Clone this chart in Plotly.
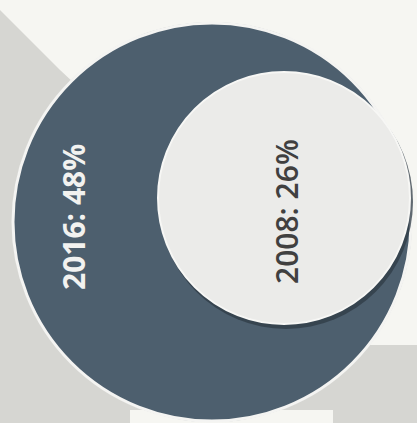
import plotly.graph_objects as go

years = ["2016", "2008"]
shares = [48, 26]
labels = [f"{y}: {s}%" for y, s in zip(years, shares)]

W, H = 417, 423
fig = go.Figure()

# background
shapes = [
    dict(type="rect", x0=0, y0=0, x1=W, y1=H, fillcolor="#d6d6d2", line_width=0, layer="below"),
    dict(type="path", path="M 0 10 L 0 0 L 417 0 L 417 345 L 300 345 L 200 200 L 60 70 Z",
         fillcolor="#f6f6f2", line_width=0, layer="below"),
    dict(type="rect", x0=130, y0=410, x1=333, y1=H, fillcolor="#f6f6f2", line_width=0, layer="below"),
]
# big circle (2016)
bc = (212, 222, 199)
shapes.append(dict(type="circle", x0=bc[0]-bc[2]-1, x1=bc[0]+bc[2]+1, y0=bc[1]-bc[2]-1, y1=bc[1]+bc[2]+1,
                   fillcolor="#b9bcbc", line_width=0))
shapes.append(dict(type="circle", x0=bc[0]-bc[2], x1=bc[0]+bc[2], y0=bc[1]-bc[2], y1=bc[1]+bc[2],
                   fillcolor="#4d5f6e", line=dict(color="#f4f4f2", width=3)))
# small circle (2008) with shadow
sc = (284, 198, 126)
shapes.append(dict(type="circle", x0=sc[0]-sc[2]+1, x1=sc[0]+sc[2]+3, y0=sc[1]-sc[2]+3, y1=sc[1]+sc[2]+5,
                   fillcolor="#2f3b45", line_width=0, opacity=0.75))
shapes.append(dict(type="circle", x0=sc[0]-sc[2], x1=sc[0]+sc[2], y0=sc[1]-sc[2], y1=sc[1]+sc[2],
                   fillcolor="#ebebe9", line=dict(color="#f7f7f5", width=2)))

fig.update_layout(shapes=shapes)

fig.add_annotation(x=73, y=217, text=labels[0], textangle=-90, showarrow=False,
                   font=dict(family="Open Sans", size=30, weight=700, color="#f2f2f0"))
fig.add_annotation(x=286, y=212, text=labels[1], textangle=-90, showarrow=False,
                   font=dict(family="Open Sans", size=30, weight=600, color="#404040"))

fig.update_xaxes(range=[0, W], visible=False, fixedrange=True)
fig.update_yaxes(range=[H, 0], visible=False, fixedrange=True)
fig.update_layout(width=W, height=H, margin=dict(l=0, r=0, t=0, b=0),
                  paper_bgcolor="#d6d6d2", plot_bgcolor="rgba(0,0,0,0)", showlegend=False)
fig.write_html("out.html", config={"displayModeBar": False})
